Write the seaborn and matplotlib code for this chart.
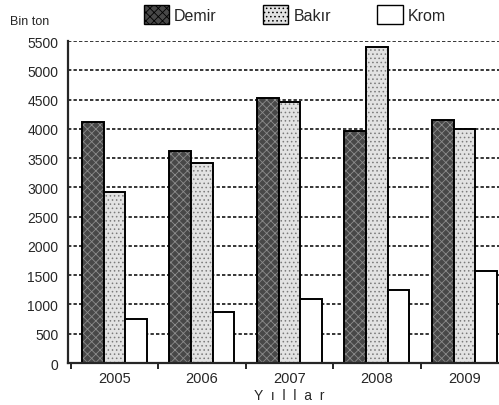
import numpy as np
import pandas as pd
import matplotlib
matplotlib.use("Agg")
import matplotlib.pyplot as plt
from matplotlib.patches import Patch
import seaborn as sns

yillar = ["2005", "2006", "2007", "2008", "2009"]
demir = [4110, 3620, 4530, 3960, 4150]
bakir = [2920, 3420, 4460, 5400, 4000]
krom = [750, 870, 1090, 1250, 1570]

df = pd.DataFrame({"Yıl": yillar, "Demir": demir, "Bakır": bakir, "Krom": krom})
tidy = df.melt(id_vars="Yıl", var_name="Maden", value_name="Bin ton")

sns.set_style("white")
plt.rcParams["font.family"] = ["Liberation Sans", "DejaVu Sans"]
plt.rcParams["hatch.linewidth"] = 0.6

renk = {"Demir": "#484848", "Bakır": "#e2e2e2", "Krom": "white"}
tarama = {"Demir": "xxxx", "Bakır": "....", "Krom": ""}
tarama_renk = {"Demir": "#8c8c8c", "Bakır": "#7a7a7a", "Krom": "black"}

fig = plt.figure(figsize=(4.99, 4.06), dpi=100)
ax = fig.add_axes([0.1363, 0.1034, 0.8818, 0.7931])

sns.barplot(data=tidy, x="Yıl", y="Bin ton", hue="Maden", palette=renk,
            width=0.74, gap=0, edgecolor="black", linewidth=1.4,
            legend=False, ax=ax, saturation=1)

maden = ["Demir", "Bakır", "Krom"]
for i, bar in enumerate(ax.patches):
    m = maden[i // len(yillar)]
    bar.set_hatch(tarama[m])
    bar._hatch_color = matplotlib.colors.to_rgba(tarama_renk[m])

ax.set_xlim(-0.53, 4.47)
ax.set_ylim(0, 5500)
ax.set_yticks(np.arange(0, 5501, 500))
ax.set_xticks(np.arange(-0.5, 4.6, 1), minor=True)
ax.tick_params(axis="y", length=5, width=1.2, labelsize=10, pad=2, color="black")
ax.tick_params(axis="x", which="major", length=0, labelsize=10.5, pad=6)
ax.tick_params(axis="x", which="minor", length=4, width=1.2, direction="out",
               color="black", bottom=True)
ax.set_xlabel("")
ax.set_ylabel("")
ax.set_axisbelow(True)
ax.yaxis.grid(True, linestyle=(0, (2.2, 1.4)), color="black", lw=1.1)
for s in ["top", "right"]:
    ax.spines[s].set_visible(False)
ax.spines["left"].set_linewidth(1.6)
ax.spines["bottom"].set_linewidth(1.6)

fig.text(0.02, 0.945, "Bin ton", fontsize=9, ha="left", va="center")
fig.text(0.51, 0.025, "Y  ı  l  l  a  r", fontsize=10, ha="left", va="center")

handles = [Patch(facecolor=renk[m], edgecolor="black", hatch=tarama[m], lw=1.0) for m in maden]
fig.legend(handles, maden, loc="center left", bbox_to_anchor=(0.275, 0.962), ncol=3,
           frameon=False, fontsize=11.5, handlelength=1.6, handleheight=1.5,
           handletextpad=0.3, columnspacing=2.9, borderaxespad=0)

fig.savefig("out.png", dpi=100)
